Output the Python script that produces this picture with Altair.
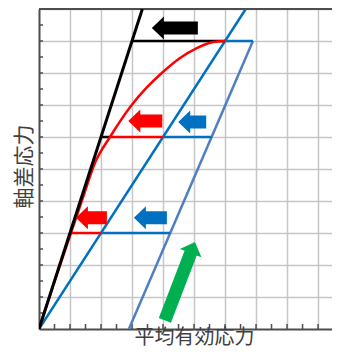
import altair as alt
import pandas as pd

# ---------------- data (axis units) ----------------
X_MAX = 9.45
Y_MAX = 10
x_grid = [1, 2, 3, 4, 5, 6, 7, 8, 9]
y_grid = [1, 2, 3, 4, 5, 6, 7, 8, 9, 10]
x_ticks = [i * 0.5 for i in range(1, 19)]
y_ticks = [i * 0.5 for i in range(1, 20)]

black_x = [0, 3.333]
black_y = [0, 10]
blue1_x = [0, 6.667]
blue1_y = [0, 10]
blue2_x = [2.9, 6.9]
blue2_y = [0, 9]
red_x = [0, 0.5, 1.03, 1.45, 1.81, 2.29, 2.99, 3.47, 3.96, 4.55, 5.09, 5.62, 6.0]
red_y = [0, 1.48, 3.0, 4.2, 5.2, 6.0, 7.0, 7.54, 8.0, 8.47, 8.78, 8.97, 9.0]

# horizontal segments: level, start, end, colour
seg_y = [9, 9, 6, 6, 6, 3, 3]
seg_x1 = [3.0, 6.0, 2.0, 2.29, 4.0, 1.0, 2.0]
seg_x2 = [6.0, 6.9, 2.29, 4.0, 5.57, 2.0, 4.23]
seg_c = ["#000000", "#0070c0", "#000000", "#ff0000", "#0070c0", "#ff0000", "#0070c0"]

# arrows: tip x, tip y, length (px), angle, colour
arr_x = [3.64, 2.88, 4.49, 1.19, 3.06, 5.03]
arr_y = [9.41, 6.50, 6.47, 3.48, 3.48, 2.72]
arr_len = [46, 34, 28, 31, 33, 84]
arr_ang = [0, 0, 0, 0, 0, 21]
arr_dir = ["left", "left", "left", "left", "left", "up"]
arr_c = ["#000000", "#ff0000", "#0070c0", "#ff0000", "#0070c0", "#00b050"]

# ---------------- layout ----------------
W, H = 293, 320
FONT = "Noto Sans CJK JP"
AX = "#4d4d4d"

xs = alt.Scale(domain=[0, X_MAX], nice=False, zero=False)
ys = alt.Scale(domain=[0, Y_MAX], nice=False, zero=False)

xaxis = alt.Axis(values=x_grid, grid=True, gridColor="#c6c6c6", gridWidth=1.5,
                 ticks=False, labels=False, domain=True, domainColor=AX, domainWidth=2,
                 title="平均有効応力", titleFont=FONT, titleFontSize=20,
                 titleFontWeight="normal", titleColor="#404040",
                 titleX=155, titleY=8, titleBaseline="middle", titleAlign="center")
yaxis = alt.Axis(values=y_grid, grid=True, gridColor="#c6c6c6", gridWidth=1.5,
                 ticks=False, labels=False, domain=True, domainColor=AX, domainWidth=2,
                 title="軸差応力", titleFont=FONT, titleFontSize=21,
                 titleFontWeight="normal", titleColor="#404040", titleAngle=270,
                 titleX=-15, titleY=157, titleBaseline="middle", titleAlign="center")


def X(f="x"):
    return alt.X(f"{f}:Q", scale=xs, axis=xaxis)


def Y(f="y"):
    return alt.Y(f"{f}:Q", scale=ys, axis=yaxis)


layers = []

base = alt.Chart(pd.DataFrame({"x": [0, X_MAX], "y": [0, Y_MAX]})).mark_point(opacity=0).encode(x=X(), y=Y())
layers.append(base)

# inward ticks and top border
yt = alt.Chart(pd.DataFrame({"y": y_ticks})).mark_rule(color=AX, strokeWidth=1.5).encode(
    y=Y(), x=alt.value(0), x2=alt.value(4))
xt = alt.Chart(pd.DataFrame({"x": x_ticks})).mark_rule(color=AX, strokeWidth=1.5).encode(
    x=X(), y=alt.value(H), y2=alt.value(H - 5))
top = alt.Chart(pd.DataFrame({"a": [0]})).mark_rule(color=AX, strokeWidth=2).encode(
    x=alt.value(0), x2=alt.value(W), y=alt.value(0))
layers += [yt, xt, top]


def line(xv, yv, color, width, interp="linear"):
    df = pd.DataFrame({"x": xv, "y": yv, "o": list(range(len(xv)))})
    return alt.Chart(df).mark_line(color=color, strokeWidth=width, interpolate=interp, clip=True).encode(
        x=X(), y=Y(), order="o:Q")


layers.append(line(blue2_x, blue2_y, "#4f7fc2", 2.5))
layers.append(line(blue1_x, blue1_y, "#0070c0", 2.5))

seg_df = pd.DataFrame({"x": seg_x1, "x2": seg_x2, "y": seg_y, "c": seg_c})
segs = alt.Chart(seg_df).mark_rule(strokeWidth=2.5).encode(
    x=X(), x2="x2:Q", y=Y(), color=alt.Color("c:N", scale=None))
layers.append(segs)

layers.append(line(red_x, red_y, "#ff0000", 2.5, "monotone"))
layers.append(line(black_x, black_y, "#000000", 3))

# arrows (custom symbol paths, drawn in pixels with size=4 -> scale 1)
HL, HH, BH = 12, 11.5, 6.5


def arrow_path(L, d):
    if d == "left":
        pts = [(0, 0), (HL, -HH), (HL, -BH), (L, -BH), (L, BH), (HL, BH), (HL, HH)]
    else:
        pts = [(0, 0), (HH, HL), (BH, HL), (BH, L), (-BH, L), (-BH, HL), (-HH, HL)]
    return "M" + " L".join(f"{a},{b}" for a, b in pts) + " Z"


for ax_, ay_, L, ang, d, c in zip(arr_x, arr_y, arr_len, arr_ang, arr_dir, arr_c):
    df = pd.DataFrame({"x": [ax_], "y": [ay_]})
    layers.append(
        alt.Chart(df).mark_point(shape=arrow_path(L, d), size=4, filled=True, opacity=1,
                                 color=c, strokeWidth=0, angle=ang).encode(x=X(), y=Y())
    )

chart = alt.layer(*layers).properties(
    width=W, height=H,
    autosize=alt.AutoSizeParams(type="none"),
    padding={"left": 31, "top": 1, "right": 0, "bottom": 18},
).configure_view(stroke=None).configure(background="white")

chart.save("out.html", embed_options={"renderer": "svg", "actions": False})
